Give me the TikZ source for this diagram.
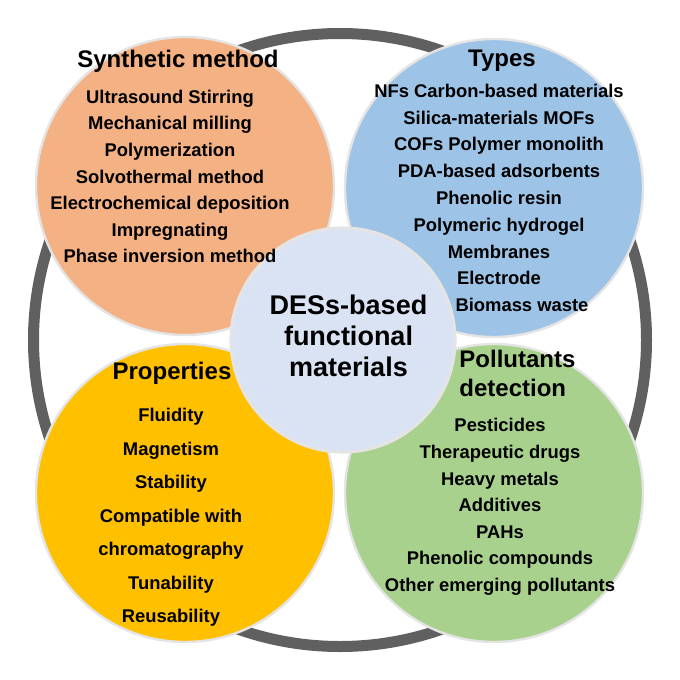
\documentclass[tikz,border=0pt]{standalone}
\usepackage{fontspec}
\setmainfont{Liberation Sans}
\usepackage{xcolor}
\definecolor{RingGray}{HTML}{606060}
\definecolor{EdgeGray}{HTML}{E4E4E4}
\definecolor{SynthOrange}{HTML}{F4B183}
\definecolor{TypesBlue}{HTML}{9DC3E6}
\definecolor{PropYellow}{HTML}{FFC000}
\definecolor{PollGreen}{HTML}{A9D18E}
\definecolor{CoreBlue}{HTML}{DAE3F3}

\begin{document}
\begin{tikzpicture}[
    x=0.5pt, y=-0.5pt,
    blob/.style={circle, draw=EdgeGray, line width=1.2pt, minimum size=149pt, inner sep=0pt},
    core/.style={circle, draw=EdgeGray, line width=1.6pt, fill=CoreBlue, minimum size=112pt, inner sep=0pt},
    title/.style={font=\bfseries\fontsize{12}{14.5}\selectfont, inner sep=0pt},
    items/.style={font=\bfseries\fontsize{9.2}{13.3}\selectfont, align=center, inner sep=0pt}
  ]
    \useasboundingbox (0,0) rectangle (680,680);

    % outer ring
    \node[circle, draw=RingGray, line width=5.5pt, minimum size=306.5pt, inner sep=0pt] (ring) at (340,340) {};

    % four topic circles
    \node[blob, fill=SynthOrange] (synth) at (185,186) {};
    \node[blob, fill=TypesBlue] (types) at (494,188) {};
    \node[blob, fill=PropYellow] (props) at (185,493) {};
    \node[blob, fill=PollGreen] (poll) at (494,493) {};
    \node[core] (des) at (343,340) {};

    % synthetic method
    \node[title] (synthT) at (178,61) {Synthetic method};
    \node[items] (synthL) at (170,176.5) {Ultrasound Stirring\\Mechanical milling\\Polymerization\\Solvothermal method\\Electrochemical deposition\\Impregnating\\Phase inversion method};

    % types
    \node[title] (typesT) at (502,61) {Types};
    \node[items, font=\bfseries\fontsize{9.2}{13.4}\selectfont] (typesL) at (499,198) {NFs Carbon-based materials\\Silica-materials MOFs\\COFs Polymer monolith\\PDA-based adsorbents\\Phenolic resin\\Polymeric hydrogel\\Membranes\\Electrode\\\hspace*{23pt}Biomass waste};

    % centre
    \node[items, font=\bfseries\fontsize{13.5}{15.5}\selectfont] (desT) at (348.5,336) {DESs-based\\functional\\materials};

    % properties
    \node[title] (propsT) at (172,373) {Properties};
    \node[items, font=\bfseries\fontsize{9.2}{16.75}\selectfont] (propsL) at (171,517.5) {Fluidity\\Magnetism\\Stability\\Compatible with\\chromatography\\Tunability\\Reusability};

    % pollutants detection
    \node[title, align=left, anchor=west] (pollT) at (459,373.5) {Pollutants\\detection};
    \node[items] (pollL) at (500,507) {Pesticides\\Therapeutic drugs\\Heavy metals\\Additives\\PAHs\\Phenolic compounds\\Other emerging pollutants};
  \end{tikzpicture}
\end{document}
